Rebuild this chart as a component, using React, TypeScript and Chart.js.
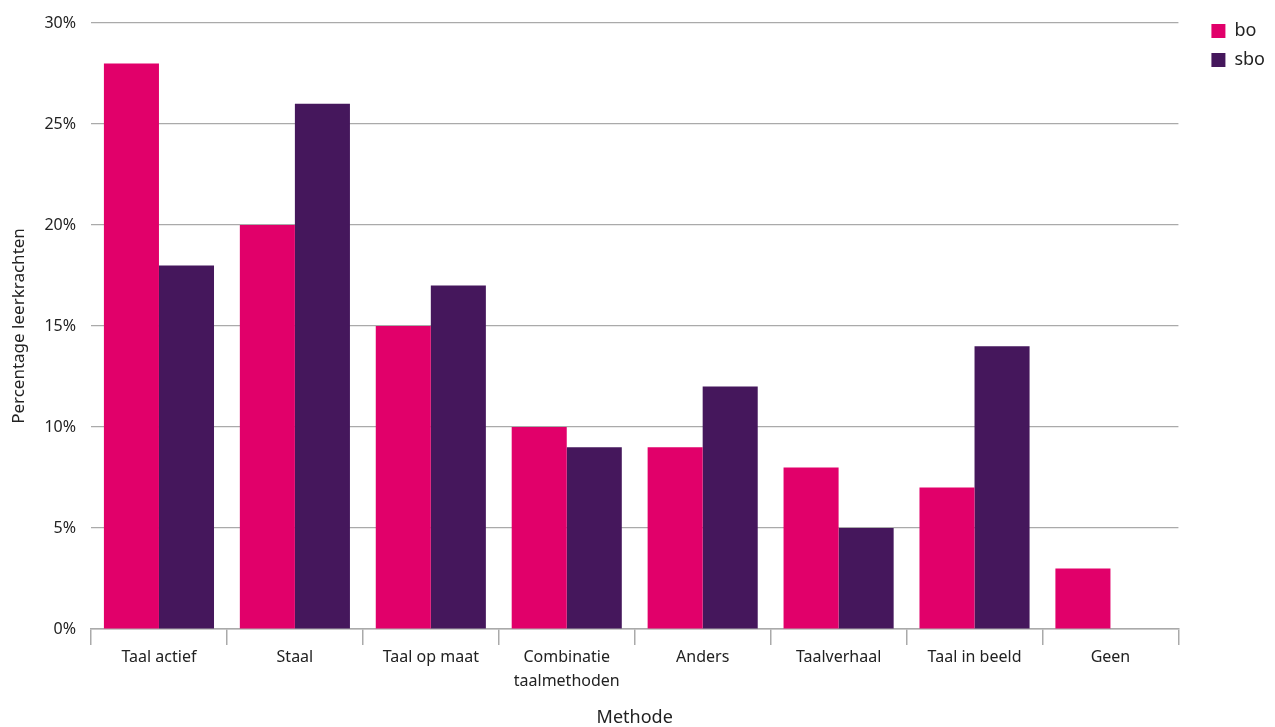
import React, { useEffect, useRef } from "react";
import { Chart, registerables, layouts } from "chart.js";

Chart.register(...registerables);

const categories: (string | string[])[] = [
  "Taal actief",
  "Staal",
  "Taal op maat",
  ["Combinatie", "taalmethoden"],
  "Anders",
  "Taalverhaal",
  "Taal in beeld",
  "Geen",
];
const boValues = [28, 20, 15, 10, 9, 8, 7, 3];
const sboValues = [18, 26, 17, 9, 12, 5, 14, 0];
const seriesNames = ["bo", "sbo"];
const yTitle = "Percentage leerkrachten";
const xTitle = "Methode";

const FONT = "'Noto Sans', 'Open Sans', sans-serif";

const legendSpacer = {
  id: "legendSpacer",
  beforeInit(chart: any) {
    const box: any = {
      position: "right",
      weight: 500,
      fullSize: false,
      options: {},
      width: 0,
      height: 0,
      left: 0,
      top: 0,
      right: 0,
      bottom: 0,
      isHorizontal() {
        return false;
      },
      update(_w: number, h: number) {
        this.width = 22;
        this.height = h;
      },
      draw() {},
    };
    layouts.addBox(chart, box);
  },
};

export default function App() {
  const ref = useRef<HTMLCanvasElement | null>(null);
  useEffect(() => {
    if (!ref.current) return;
    const chart = new Chart(ref.current, {
      type: "bar",
      data: {
        labels: categories,
        datasets: [
          { label: seriesNames[0], data: boValues, backgroundColor: "#e1006a" },
          { label: seriesNames[1], data: sboValues, backgroundColor: "#45175c" },
        ],
      },
      plugins: [legendSpacer],
      options: {
        animation: false,
        responsive: false,
        maintainAspectRatio: false,
        datasets: { bar: { categoryPercentage: 0.81, barPercentage: 1.0 } },
        layout: { padding: { top: 11, right: 0, left: 9, bottom: 0 } },
        plugins: {
          tooltip: { enabled: false },
          legend: {
            position: "right",
            align: "start",
            labels: {
              boxWidth: 14,
              boxHeight: 14,
              padding: 11,
              color: "#222",
              font: { family: FONT, size: 18 },
            },
          },
        },
        scales: {
          x: {
            grid: {
              offset: true,
              drawOnChartArea: false,
              drawTicks: true,
              tickLength: 16,
              color: "#aaaaaa",
              lineWidth: 1.5,
            },
            border: { display: true, color: "#aaaaaa", width: 1.5 },
            ticks: {
              color: "#222",
              font: { family: FONT, size: 16, lineHeight: 1.5 },
              padding: 0,
              maxRotation: 0,
              autoSkip: false,
            },
            title: {
              display: true,
              text: xTitle,
              color: "#222",
              font: { family: FONT, size: 18, lineHeight: 1.0 },
              padding: { top: 16, bottom: 0 },
            },
          },
          y: {
            min: 0,
            max: 30,
            grid: { drawTicks: false, color: "#aaaaaa", lineWidth: 1.2 },
            border: { display: false },
            ticks: {
              stepSize: 5,
              padding: 15,
              color: "#222",
              font: { family: FONT, size: 16, lineHeight: 1.0 },
              callback: (v: any) => `${v}%`,
            },
            title: {
              display: true,
              text: yTitle,
              color: "#222",
              font: { family: FONT, size: 17 },
              padding: { top: 0, bottom: 0 },
            },
          },
        },
      },
    });
    return () => chart.destroy();
  }, []);
  return (
    <div style={{ position: "fixed", left: 0, top: 0, width: 1275, height: 727 }}>
      <canvas ref={ref} width={1275} height={727} />
    </div>
  );
}
